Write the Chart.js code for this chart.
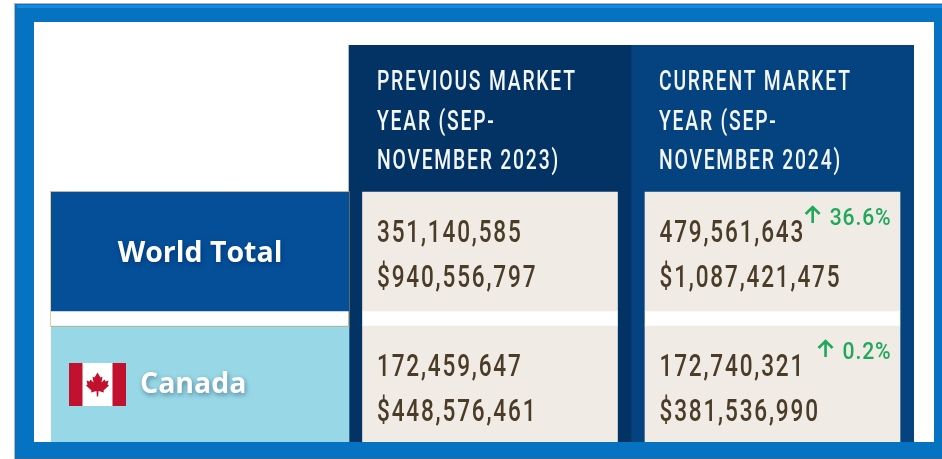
<!DOCTYPE html>
<html>
<head>
<meta charset="utf-8">
<title>Market year comparison</title>
<script src="https://cdn.jsdelivr.net/npm/chart.js@4"></script>
<style>
  html, body { margin: 0; padding: 0; background: #fff; overflow: hidden; }
  canvas { display: block; }
</style>
</head>
<body>
<canvas id="tableChart" width="942" height="459"></canvas>
<script>
// Table values
const regions = ["World Total", "Canada"];
const previousHeader = ["PREVIOUS MARKET", "YEAR (SEP-", "NOVEMBER 2023)"];
const currentHeader = ["CURRENT MARKET", "YEAR (SEP-", "NOVEMBER 2024)"];
const previousVolume = [351140585, 172459647];
const previousValue = [940556797, 448576461];
const currentVolume = [479561643, 172740321];
const currentValue = [1087421475, 381536990];
const changePercent = [36.6, 0.2];

// Table layout, in scale units (1 unit = 1 px)
const columnWidths = [298, 282, 283];
const rowHeights = [147, 134, 133];
const rowGap = 15;
const cellWidth = 255;

const columnStart = (i) => columnWidths.slice(0, i).reduce((a, b) => a + b, 0);
const rowStart = (i) => rowHeights.slice(0, i).reduce((a, b) => a + b, 0);
const columnCentre = (i) => columnStart(i) + columnWidths[i] / 2;
const tableWidth = columnStart(columnWidths.length);
const tableHeight = rowStart(rowHeights.length);

// One rectangle per data row, from the top of the row to the gap
const rowSpans = (col) =>
  regions.map((_, r) => ({
    x: columnCentre(col),
    y: [rowStart(r + 1), rowStart(r + 1) + rowHeights[r + 1] - (r === 0 ? rowGap : 0)],
  }));

// White strip between the two data rows
const gapSpan = (col) => ({ x: columnCentre(col), y: [rowStart(2) - rowGap, rowStart(2)] });

const barDefaults = { grouped: false, borderWidth: 0, borderSkipped: false };

// Lower order is painted on top, so the cells sit over the columns
const datasets = [
  {
    ...barDefaults,
    label: "Previous column",
    order: 2,
    data: [{ x: columnCentre(1), y: [0, tableHeight] }],
    backgroundColor: "#033365",
    barThickness: columnWidths[1],
  },
  {
    ...barDefaults,
    label: "Current column",
    order: 2,
    data: [{ x: columnCentre(2), y: [0, tableHeight] }],
    backgroundColor: "#04437f",
    barThickness: columnWidths[2],
  },
  {
    ...barDefaults,
    label: "Regions",
    order: 1,
    data: rowSpans(0),
    backgroundColor: ["#054f99", "#98d8e6"],
    barThickness: columnWidths[0],
  },
  {
    ...barDefaults,
    label: "Previous market year",
    order: 1,
    data: rowSpans(1),
    backgroundColor: "#f0ebe5",
    barThickness: cellWidth,
  },
  {
    ...barDefaults,
    label: "Current market year",
    order: 1,
    data: rowSpans(2),
    backgroundColor: "#f0ebe5",
    barThickness: cellWidth,
  },
  {
    ...barDefaults,
    label: "Row gap",
    order: 1,
    data: [gapSpan(1), gapSpan(2)],
    backgroundColor: "#fff",
    barThickness: cellWidth,
  },
];

// No condensed face is installed, so Roboto is squeezed sideways
function narrowText(ctx, text, x, y, squeeze) {
  ctx.save();
  ctx.translate(x, y);
  ctx.scale(squeeze, 1);
  ctx.fillText(text, 0, 0);
  ctx.restore();
}

// Frame, flag and every text of the table
const tablePlugin = {
  id: "tablePlugin",
  beforeDraw(chart) {
    const ctx = chart.ctx;
    ctx.save();
    ctx.fillStyle = "#fff";
    ctx.fillRect(0, 0, chart.width, chart.height);
    ctx.restore();
  },
  afterDraw(chart) {
    const ctx = chart.ctx;
    const px = (v) => chart.scales.x.getPixelForValue(v);
    const py = (v) => chart.scales.y.getPixelForValue(v);

    drawLabels(ctx, px, py);
    drawFlag(ctx, px(18), py(rowStart(2) + 37));
    drawOutline(ctx, px, py);
    drawFrame(ctx);
  },
};

function drawArrow(ctx, cx, top, bottom) {
  ctx.save();
  ctx.strokeStyle = "#1fa85a";
  ctx.lineWidth = 2.6;
  ctx.beginPath();
  ctx.moveTo(cx, bottom);
  ctx.lineTo(cx, top + 1);
  ctx.moveTo(cx - 7, top + 8);
  ctx.lineTo(cx, top + 1);
  ctx.lineTo(cx + 7, top + 8);
  ctx.stroke();
  ctx.restore();
}

function drawLabels(ctx, px, py) {
  ctx.save();
  ctx.textBaseline = "alphabetic";

  // Column headers
  ctx.fillStyle = "#f4f7fa";
  ctx.font = "500 28px Roboto";
  ctx.letterSpacing = "2.6px";
  [previousHeader, currentHeader].forEach((lines, c) => {
    const left = px(columnStart(c + 1)) + 28;
    lines.forEach((line, i) => narrowText(ctx, line, left, py(45 + i * 39.5), 0.69));
  });

  // Figures
  ctx.fillStyle = "#4b3c27";
  ctx.font = "500 32px Roboto";
  ctx.letterSpacing = "2.6px";
  regions.forEach((_, r) => {
    const top = py(rowStart(r + 1));
    const prevX = px(columnStart(1)) + 28;
    const curX = px(columnStart(2)) + 28.5;
    narrowText(ctx, previousVolume[r].toLocaleString("en-US"), prevX, top + 49.5, 0.705);
    narrowText(ctx, "$" + previousValue[r].toLocaleString("en-US"), prevX, top + 94.5, 0.705);
    narrowText(ctx, currentVolume[r].toLocaleString("en-US"), curX, top + 49.5, 0.705);
    narrowText(ctx, "$" + currentValue[r].toLocaleString("en-US"), curX, top + 94.5, 0.705);
  });

  // Change against previous year
  const rightEdge = px(columnStart(2)) + 260.5;
  regions.forEach((_, r) => {
    const top = py(rowStart(r + 1));
    const text = changePercent[r].toFixed(1) + "%";
    const squeeze = 0.88;
    ctx.fillStyle = "#1fa85a";
    ctx.font = "500 24px Roboto";
    ctx.letterSpacing = "1px";
    const textWidth = ctx.measureText(text).width * squeeze;
    narrowText(ctx, text, rightEdge - textWidth, top + 32.5, squeeze);
    drawArrow(ctx, rightEdge - textWidth - 17, top + 14, top + 31);
  });

  // Region names
  ctx.fillStyle = "#fff";
  ctx.font = "bold 28.5px 'Open Sans'";
  ctx.letterSpacing = "0px";
  ctx.shadowColor = "rgba(0,30,70,0.45)";
  ctx.shadowBlur = 5;
  ctx.shadowOffsetX = 1;
  ctx.shadowOffsetY = 2;
  ctx.textAlign = "center";
  ctx.fillText(regions[0], px(columnCentre(0)), py(rowStart(1)) + 70);
  ctx.textAlign = "left";
  ctx.fillText(regions[1], px(89), py(rowStart(2)) + 67);
  ctx.restore();
}

function drawFlag(ctx, left, top) {
  const w = 57;
  const h = 43;
  const band = 13.5;
  ctx.save();
  ctx.fillStyle = "#fff";
  ctx.fillRect(left, top, w, h);
  ctx.fillStyle = "#c1112f";
  ctx.fillRect(left, top, band, h);
  ctx.fillRect(left + w - band, top, band, h);

  // Maple leaf, half outline mirrored around the stem
  const half = [[0, -12], [3, -7], [5, -8], [4, -2], [7, -5], [8, -3], [11, -4], [10, 0], [11.5, 1], [6, 6], [6.5, 8], [1, 6.5], [0.7, 12]];
  const cx = left + w / 2;
  const cy = top + h / 2;
  ctx.beginPath();
  half.forEach(([x, y], i) => (i ? ctx.lineTo(cx + x, cy + y) : ctx.moveTo(cx + x, cy + y)));
  half.slice().reverse().forEach(([x, y]) => ctx.lineTo(cx - x, cy + y));
  ctx.closePath();
  ctx.fill();
  ctx.restore();
}

function drawOutline(ctx, px, py) {
  ctx.save();
  ctx.strokeStyle = "#c99a45";
  ctx.lineWidth = 1;
  ctx.setLineDash([1, 1]);
  const x0 = px(0) - 0.5;
  const x1 = px(columnWidths[0]) + 0.5;
  const y0 = py(rowStart(1)) - 0.5;
  const y1 = py(rowStart(2)) + 0.5;
  ctx.strokeRect(x0, y0, x1 - x0, y1 - y0);
  ctx.restore();
}

function drawFrame(ctx) {
  ctx.save();
  // Soft shadow round the frame
  ctx.fillStyle = "#b4b4b4";
  ctx.fillRect(14, 3, 1, 456);
  ctx.fillRect(14, 3, 928, 1);

  ctx.fillStyle = "#0572c2";
  ctx.beginPath();
  ctx.rect(15, 4, 927, 455);
  ctx.rect(34, 22, 900, 420);
  ctx.fill("evenodd");

  // Lighter band along the top edge, darker line at the bottom
  ctx.fillStyle = "#1888de";
  ctx.fillRect(17, 5, 925, 3);
  ctx.fillStyle = "#2a6a9c";
  ctx.fillRect(15, 458, 927, 1);
  ctx.restore();
}

new Chart(document.getElementById("tableChart"), {
  type: "bar",
  data: { datasets },
  options: {
    responsive: false,
    animation: false,
    layout: { padding: { left: 51, right: 28, top: 45, bottom: 0 } },
    plugins: {
      legend: { display: false },
      title: { display: false },
      tooltip: { enabled: false },
    },
    scales: {
      x: { type: "linear", display: false, min: 0, max: tableWidth, offset: false },
      y: { type: "linear", display: false, min: 0, max: tableHeight, reverse: true },
    },
  },
  plugins: [tablePlugin],
});
</script>
</body>
</html>
